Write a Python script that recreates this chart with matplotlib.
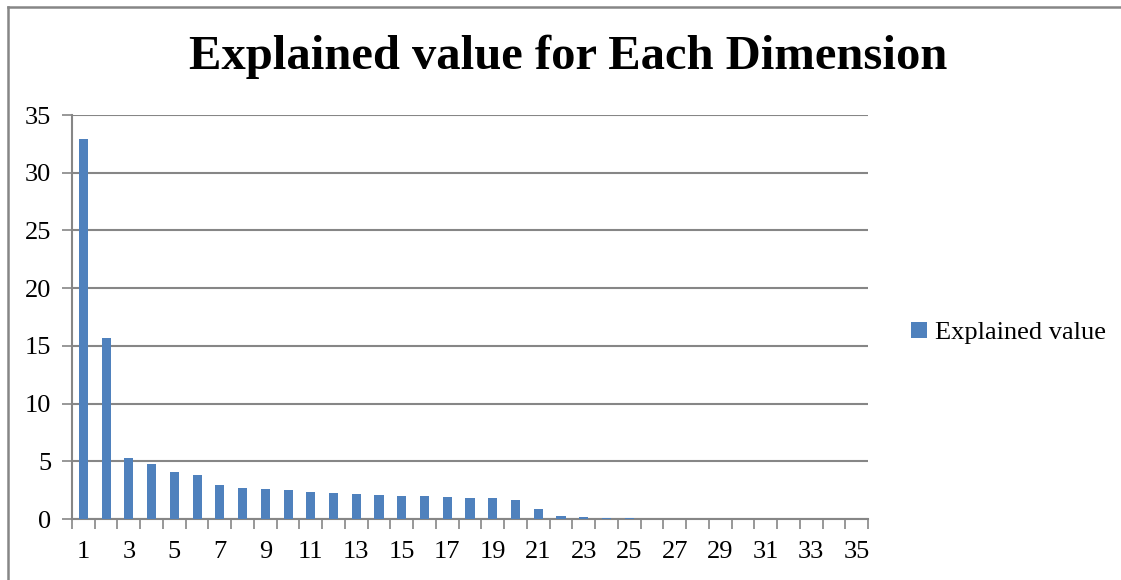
import matplotlib
matplotlib.use("Agg")
import matplotlib.pyplot as plt
from matplotlib.lines import Line2D
import numpy as np

dimensions = list(range(1, 36))
explained = [32.9, 15.66, 5.26, 4.74, 4.05, 3.81, 2.95, 2.66, 2.57, 2.49,
             2.38, 2.23, 2.15, 2.08, 2.02, 1.96, 1.93, 1.85, 1.79, 1.65,
             0.84, 0.26, 0.14, 0.05, 0.05, 0, 0, 0, 0, 0,
             0, 0, 0, 0, 0]
y_ticks = [0, 5, 10, 15, 20, 25, 30, 35]
x_labels = [str(d) if d % 2 == 1 else "" for d in dimensions]
title = "Explained value for Each Dimension"
series_name = "Explained value"

plt.rcParams['font.family'] = ['Liberation Serif', 'DejaVu Serif']

W, H = 1121, 580
fig = plt.figure(figsize=(W / 100, H / 100), dpi=100)
ax = fig.add_axes([72 / W, 1 - 519 / H, (868 - 72) / W, (519 - 115) / H])

grid_c = "#868686"
bar_c = "#4F81BD"

ax.bar(dimensions, explained, width=0.4, color=bar_c, label=series_name, zorder=3)
ax.set_xlim(0.5, 35.5)
ax.set_ylim(0, 35)
ax.set_yticks(y_ticks)
ax.set_yticklabels([str(v) for v in y_ticks], fontsize=19)
ax.yaxis.grid(True, color=grid_c, linewidth=1.5, zorder=0)
ax.set_axisbelow(True)

ax.set_xticks(dimensions)
ax.set_xticklabels(x_labels, fontsize=19)
ax.set_xticks(np.arange(0.5, 36, 1.0), minor=True)
ax.tick_params(axis='x', which='major', length=0, pad=16)
ax.tick_params(axis='x', which='minor', length=7, width=1.2, color=grid_c)
ax.tick_params(axis='y', length=7, width=1.2, color=grid_c, pad=8)

for s in ['top', 'right']:
    ax.spines[s].set_visible(False)
for s in ['left', 'bottom']:
    ax.spines[s].set_color(grid_c)
    ax.spines[s].set_linewidth(1.5)

fig.text(568 / W, 1 - 57 / H, title, ha='center', va='center',
         fontsize=35, fontweight='bold')

leg = fig.legend(loc='center left', bbox_to_anchor=(911 / W, 1 - 333 / H),
                 frameon=False, fontsize=19, handlelength=0.6, handleheight=0.6,
                 handletextpad=0.3, borderpad=0, borderaxespad=0)

fig.add_artist(Line2D([8 / W, 8 / W], [0, 1 - 7 / H], transform=fig.transFigure,
                      color=grid_c, linewidth=1.8))
fig.add_artist(Line2D([8 / W, 1], [1 - 7 / H, 1 - 7 / H], transform=fig.transFigure,
                      color=grid_c, linewidth=1.8))

fig.savefig("out.png", dpi=100)
